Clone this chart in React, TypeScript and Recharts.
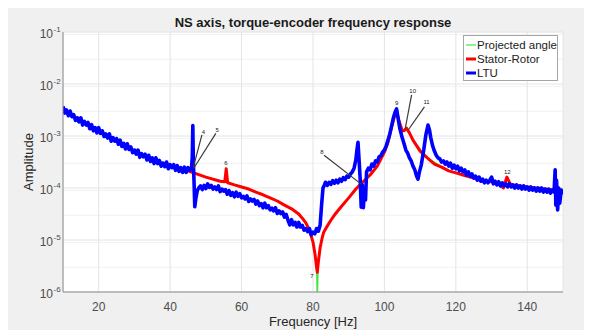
import React from "react";
import {
  LineChart,
  Line,
  XAxis,
  YAxis,
  CartesianGrid,
  Legend,
  ReferenceLine,
  ReferenceDot,
} from "recharts";

const FONT = '"Liberation Sans", Arial, Helvetica, sans-serif';

// axis ticks
const xTicks = [20, 40, 60, 80, 100, 120, 140];
const yDecades = [1e-6, 1e-5, 1e-4, 1e-3, 1e-2, 1e-1];
const yMinorSteps = [2, 3, 4, 5, 6, 7, 8, 9];

// [frequency Hz, log10(amplitude)]
const ltuLog: [number, number][] = [
  [10, -2.43], [10.5, -2.56], [11, -2.5], [11.5, -2.61], [12, -2.52], [12.5, -2.63], [13, -2.59], [13.5, -2.7],
  [14, -2.65], [14.5, -2.73], [15, -2.65], [15.5, -2.79], [16, -2.72], [16.5, -2.79], [17, -2.74], [17.5, -2.86],
  [18, -2.78], [18.5, -2.9], [19, -2.84], [19.5, -2.94], [20, -2.84], [20.5, -2.95], [21, -2.9], [21.5, -3.01],
  [22, -2.96], [22.5, -3.04], [23, -2.96], [23.5, -3.1], [24, -3.03], [24.5, -3.1], [25, -3.05], [25.5, -3.16],
  [26, -3.08], [26.5, -3.2], [27, -3.14], [27.5, -3.25], [28, -3.15], [28.5, -3.26], [29, -3.21], [29.5, -3.32],
  [30, -3.27], [30.5, -3.35], [31, -3.27], [31.5, -3.41], [32, -3.34], [32.5, -3.4], [33, -3.35], [33.5, -3.46],
  [34, -3.37], [34.5, -3.49], [35, -3.42], [35.5, -3.53], [36, -3.42], [36.5, -3.53], [37, -3.47], [37.5, -3.58],
  [38, -3.52], [38.5, -3.59], [39, -3.5], [39.5, -3.63], [40, -3.55], [40.5, -3.61], [41, -3.55], [41.5, -3.66],
  [42, -3.57], [42.5, -3.68], [43, -3.61], [43.5, -3.7], [44, -3.6], [44.5, -3.7], [45, -3.61], [45.5, -3.66],
  [46, -3.6], [46.2, -3.4], [46.35, -2.8], [46.5, -3.5], [46.7, -3.9], [46.9, -4.36], [47.2, -4.2], [47.6, -4.05],
  [48, -4.0], [48.5, -3.96], [49, -4.03], [49.5, -3.95], [50, -4.01], [50.5, -3.92], [51, -3.99], [51.5, -3.95],
  [52, -4.02], [52.5, -3.98], [53, -4.03], [53.5, -3.96], [54, -4.07], [54.5, -4.02], [55, -4.06], [55.5, -4.03],
  [56, -4.12], [56.5, -4.05], [57, -4.14], [57.5, -4.09], [58, -4.17], [58.5, -4.08], [59, -4.16], [59.5, -4.11],
  [60, -4.19], [60.5, -4.16], [61, -4.21], [61.5, -4.15], [62, -4.26], [62.5, -4.21], [63, -4.25], [63.5, -4.22],
  [64, -4.31], [64.5, -4.25], [65, -4.34], [65.5, -4.3], [66, -4.38], [66.5, -4.29], [67, -4.38], [67.5, -4.34],
  [68, -4.42], [68.5, -4.39], [69, -4.44], [69.5, -4.38], [70, -4.49], [70.5, -4.44], [71, -4.49], [71.5, -4.46],
  [72, -4.56], [72.5, -4.51], [73, -4.62], [73.5, -4.71], [74, -4.61], [74.5, -4.71], [75, -4.66], [75.5, -4.75],
  [76, -4.66], [76.5, -4.75], [77, -4.72], [77.5, -4.81], [78, -4.78], [78.5, -4.84], [79, -4.78], [79.5, -4.9],
  [80, -4.85], [80.5, -4.88], [81, -4.78], [81.5, -4.83], [82, -4.71], [82.4, -4.33], [82.8, -4.0], [83.2, -3.94],
  [83.5, -3.89], [84, -3.95], [84.5, -3.89], [85, -3.93], [85.5, -3.86], [86, -3.91], [86.5, -3.85], [87, -3.9],
  [87.5, -3.83], [88, -3.87], [88.5, -3.8], [89, -3.84], [89.5, -3.77], [90, -3.79], [90.5, -3.73], [91, -3.69],
  [91.5, -3.62], [92, -3.46], [92.3, -3.27], [92.6, -3.12], [92.9, -3.46], [93.2, -3.81], [93.5, -4.37], [93.8, -3.94],
  [94.1, -4.38], [94.4, -4.04], [94.7, -4.23], [95, -3.69], [95.5, -3.62], [96, -3.65], [96.5, -3.54], [97, -3.58],
  [97.5, -3.48], [98, -3.5], [98.5, -3.4], [99, -3.38], [99.5, -3.31], [100, -3.27], [100.5, -3.19], [101, -3.08],
  [101.5, -2.96], [102, -2.81], [102.5, -2.65], [103, -2.54], [103.4, -2.48], [103.8, -2.65], [104.3, -2.85], [105, -3.04],
  [105.5, -3.15], [106, -3.27], [106.5, -3.33], [107, -3.42], [107.5, -3.48], [108, -3.58], [108.5, -3.65], [109, -3.77],
  [109.4, -3.83], [109.8, -3.69], [110.3, -3.56], [111, -3.27], [111.6, -2.98], [112.2, -2.79], [112.6, -2.88], [113, -3.04],
  [113.5, -3.19], [114, -3.29], [114.5, -3.37], [115, -3.42], [115.5, -3.44], [116, -3.5], [116.5, -3.48], [117, -3.54],
  [117.5, -3.5], [118, -3.58], [118.5, -3.52], [119, -3.62], [119.5, -3.56], [120, -3.63], [120.5, -3.58], [121, -3.67],
  [121.5, -3.62], [122, -3.69], [122.5, -3.65], [123, -3.75], [123.5, -3.69], [124, -3.77], [124.5, -3.73], [125, -3.81],
  [125.5, -3.77], [126, -3.85], [126.5, -3.79], [127, -3.87], [127.5, -3.83], [128, -3.9], [128.5, -3.85], [129, -3.9],
  [129.5, -3.85], [130, -3.79], [130.5, -3.92], [131, -3.87], [131.5, -3.94], [132, -3.88], [132.5, -3.96], [133, -3.9],
  [133.5, -3.96], [134, -3.92], [134.5, -3.98], [135, -3.92], [135.5, -3.98], [136, -3.94], [136.5, -4.0], [137, -3.94],
  [137.5, -4.0], [138, -3.96], [138.5, -4.02], [139, -3.96], [139.5, -4.02], [140, -3.98], [140.5, -4.04], [141, -3.98],
  [141.5, -4.04], [142, -4.0], [142.5, -4.06], [143, -4.0], [143.5, -4.06], [144, -4.0], [144.5, -4.08], [145, -4.02],
  [145.5, -4.08], [146, -4.02], [146.5, -4.1], [147, -4.04], [147.5, -4.08], [147.8, -3.65], [148, -4.33], [148.2, -3.85],
  [148.5, -4.42], [148.8, -4.0], [149.1, -4.29], [149.5, -4.04], [150, -4.12],
];

const statorLog: [number, number][] = [
  [10, -2.48], [15, -2.71], [20, -2.9], [25, -3.1], [30, -3.29], [35, -3.46], [40, -3.58], [45, -3.67],
  [50, -3.79], [54, -3.87], [55.3, -3.88], [55.7, -3.63], [56.1, -3.9], [58, -3.94], [60, -3.98], [62, -4.02],
  [64, -4.08], [66, -4.13], [68, -4.19], [70, -4.25], [72, -4.33], [74, -4.4], [76, -4.5], [77, -4.58],
  [78, -4.67], [79, -4.81], [80, -5.04], [80.6, -5.29], [81, -5.52], [81.2, -5.62], [81.5, -5.42], [82, -5.15],
  [82.5, -4.98], [83, -4.85], [84, -4.73], [85, -4.62], [86, -4.52], [88, -4.35], [90, -4.19], [92, -4.02],
  [94, -3.88], [96, -3.75], [98, -3.58], [100, -3.31], [101, -3.12], [102, -2.83], [103, -2.58], [103.4, -2.52],
  [104, -2.69], [105, -2.9], [105.5, -2.9], [106.2, -2.85], [107, -2.94], [108, -3.08], [110, -3.29], [112, -3.42],
  [114, -3.54], [116, -3.6], [118, -3.67], [120, -3.71], [122, -3.75], [124, -3.79], [126, -3.83], [128, -3.87],
  [130, -3.88], [132, -3.92], [133.3, -4.0], [134.3, -3.79], [135.2, -3.92], [136, -3.94], [140, -3.98], [145, -4.02],
  [150, -4.06],
];

const projectedLog: [number, number][] = [
  [10, -2.48], [20, -2.9], [30, -3.29], [40, -3.58], [45, -3.67], [50, -3.79], [55, -3.87], [60, -3.98],
  [66, -4.13], [70, -4.25], [74, -4.4], [77, -4.58], [79, -4.81], [80, -5.04], [80.6, -5.29], [81, -5.55],
  [81.2, -6.2], [81.5, -5.42], [82, -5.15], [83, -4.85], [86, -4.52], [90, -4.19], [94, -3.88], [98, -3.58],
  [101, -3.12], [103, -2.58], [103.4, -2.52], [105, -2.9], [106.2, -2.85], [108, -3.08], [112, -3.42], [118, -3.67],
  [124, -3.79], [130, -3.88], [136, -3.94], [145, -4.02], [150, -4.06],
];

// data-tip annotations: [f, log10] pairs
const tipLines: { from: [number, number]; to: [number, number] }[] = [
  { from: [46.5, -3.6], to: [48.9, -2.98] },
  { from: [46.6, -3.62], to: [52.8, -2.95] },
  { from: [83.1, -3.37], to: [93.6, -3.93] },
  { from: [107.6, -2.21], to: [105.8, -2.87] },
  { from: [111.2, -2.44], to: [106.7, -2.88] },
];
const tipLabels: { id: string; f: number; e: number }[] = [
  { id: "4", f: 49.3, e: -2.92 },
  { id: "5", f: 53.2, e: -2.88 },
  { id: "6", f: 55.6, e: -3.52 },
  { id: "7", f: 79.7, e: -5.69 },
  { id: "8", f: 82.5, e: -3.31 },
  { id: "9", f: 103.4, e: -2.37 },
  { id: "10", f: 107.9, e: -2.13 },
  { id: "11", f: 111.8, e: -2.35 },
  { id: "12", f: 134.4, e: -3.69 },
];

const SERIES = [
  { name: "Projected angle", color: "#3ee63e", width: 1.2, legendWidth: 1.2, points: projectedLog },
  { name: "Stator-Rotor", color: "#ff0000", width: 3, legendWidth: 3, points: statorLog },
  { name: "LTU", color: "#0000ff", width: 3.6, legendWidth: 3, points: ltuLog },
];

const toData = (pts: [number, number][]) => pts.map(([f, e]) => ({ f, v: 10 ** e }));

const yMinor = yDecades.slice(0, -1).flatMap((d) => yMinorSteps.map((m) => d * m));
const Y_DOMAIN: [number, number] = [1e-6, 1e-1];

function DecadeTick({ x, y, payload }: any) {
  const exp = Math.round(Math.log10(payload.value));
  return (
    <g fill="#4d4d4d" fontFamily={FONT}>
      <text x={x - 6} y={y + 6} textAnchor="end" fontSize={12}>
        10
      </text>
      <text x={x - 5.5} y={y} textAnchor="start" fontSize={8}>
        {exp}
      </text>
    </g>
  );
}

function TipText(props: any) {
  const { cx, cy, id } = props;
  return (
    <text x={cx} y={cy} textAnchor="middle" dominantBaseline="central" fontSize={6} fill="#222" fontFamily={FONT}>
      {id}
    </text>
  );
}

function LegendBox() {
  return (
    <div
      style={{
        width: 95,
        height: 46,
        boxSizing: "border-box",
        border: "1px solid #a6a6a6",
        background: "#fff",
        fontFamily: FONT,
        fontSize: 11.5,
        color: "#222",
        paddingTop: 2,
      }}
    >
      {SERIES.map((s) => (
        <div key={s.name} style={{ display: "flex", alignItems: "center", height: 14 }}>
          <svg width={13} height={14} style={{ flexShrink: 0 }}>
            <line x1={2} x2={12} y1={7} y2={7} stroke={s.color} strokeWidth={s.legendWidth} />
          </svg>
          <span style={{ whiteSpace: "nowrap" }}>{s.name}</span>
        </div>
      ))}
    </div>
  );
}

export default function App() {
  return (
    <div style={{ position: "relative", width: 584, height: 322, background: "#f0f0f0", overflow: "hidden" }}>
      <div
        style={{
          position: "absolute",
          left: 55,
          top: 7,
          width: 500,
          textAlign: "center",
          fontFamily: FONT,
          fontWeight: "bold",
          fontSize: 13,
          lineHeight: "16px",
          color: "#1a1a1a",
        }}
      >
        NS axis, torque-encoder frequency response
      </div>
      <LineChart width={584} height={322} margin={{ top: 24, right: 29, bottom: 0, left: 0 }}>
        <CartesianGrid yAxisId="minor" vertical={false} stroke="#f1f1f1" fill="#ffffff" />
        <CartesianGrid yAxisId="left" stroke="#e4e4e4" />
        <XAxis
          dataKey="f"
          type="number"
          domain={[10, 150]}
          ticks={xTicks}
          allowDataOverflow
          height={38}
          tickSize={0}
          tickMargin={10}
          axisLine={{ stroke: "#8c8c8c" }}
          tick={{ fill: "#4d4d4d", fontSize: 12, fontFamily: FONT }}
          label={{
            value: "Frequency [Hz]",
            position: "insideBottom",
            offset: 4,
            fill: "#262626",
            fontSize: 13,
            fontFamily: FONT,
          }}
        />
        <XAxis
          xAxisId="top"
          dataKey="f"
          type="number"
          orientation="top"
          domain={[10, 150]}
          ticks={xTicks}
          height={0}
          mirror
          tickSize={4}
          tick={false}
          axisLine={{ stroke: "#8c8c8c" }}
          tickLine={{ stroke: "#8c8c8c" }}
        />
        <YAxis
          yAxisId="left"
          scale="log"
          domain={Y_DOMAIN}
          allowDataOverflow
          ticks={yDecades}
          width={55}
          tickSize={0}
          tickMargin={4}
          axisLine={{ stroke: "#8c8c8c" }}
          tick={<DecadeTick />}
          label={{
            value: "Amplitude",
            angle: -90,
            position: "insideLeft",
            offset: 20,
            fill: "#262626",
            fontSize: 13,
            fontFamily: FONT,
            style: { textAnchor: "middle" },
          }}
        />
        <YAxis yAxisId="minor" scale="log" domain={Y_DOMAIN} allowDataOverflow ticks={yMinor} hide />
        <YAxis
          yAxisId="right"
          orientation="right"
          scale="log"
          domain={Y_DOMAIN}
          allowDataOverflow
          ticks={[...yDecades, ...yMinor]}
          width={0}
          mirror
          tickSize={3}
          tick={false}
          axisLine={{ stroke: "#8c8c8c" }}
          tickLine={{ stroke: "#8c8c8c" }}
        />
        <Legend
          layout="horizontal"
          align="center"
          verticalAlign="middle"
          wrapperStyle={{ left: 455, top: 27, width: 95, height: 46 }}
          content={() => <LegendBox />}
        />
        {SERIES.map((s) => (
          <Line
            key={s.name}
            yAxisId="left"
            data={toData(s.points)}
            dataKey="v"
            name={s.name}
            type="linear"
            stroke={s.color}
            strokeWidth={s.width}
            strokeLinejoin="round"
            dot={false}
            activeDot={false}
            isAnimationActive={false}
          />
        ))}
        {tipLines.map((t, i) => (
          <ReferenceLine
            key={`tl${i}`}
            yAxisId="left"
            segment={[
              { x: t.from[0], y: 10 ** t.from[1] },
              { x: t.to[0], y: 10 ** t.to[1] },
            ]}
            stroke="#3a3a3a"
            strokeWidth={1.2}
            ifOverflow="visible"
          />
        ))}
        {tipLabels.map((t) => (
          <ReferenceDot
            key={`lb${t.id}`}
            yAxisId="left"
            x={t.f}
            y={10 ** t.e}
            r={0}
            ifOverflow="visible"
            shape={(p: any) => <TipText {...p} id={t.id} />}
          />
        ))}
      </LineChart>
    </div>
  );
}
